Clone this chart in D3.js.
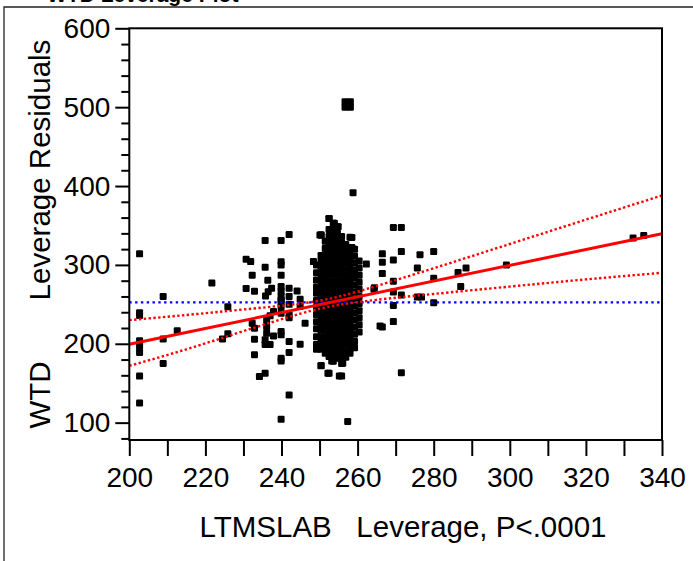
<!DOCTYPE html>
<html>
<head>
<meta charset="utf-8">
<script src="https://cdn.jsdelivr.net/npm/d3@7"></script>
<style>
  html, body { margin: 0; padding: 0; background: #fff; }
  svg { display: block; font-family: "Liberation Sans", Arial, sans-serif; }
</style>
</head>
<body>
<svg id="chart" width="693" height="561"></svg>
<script>
// ---------------- data ----------------
const chartTitle = "WTD Leverage Plot";
const xAxisTitle = "LTMSLAB\u00a0\u00a0\u00a0Leverage, P<.0001";
const yAxisTitleTop = "Leverage Residuals";
const yAxisTitleBottom = "WTD";

const xDomain = [200, 340];
const yDomain = [78, 600];
const xTickValues = [200, 210, 220, 230, 240, 250, 260, 270, 280, 290, 300, 310, 320, 330, 340];
const xTickLabels = [200, 220, 240, 260, 280, 300, 320, 340];
const yMajorTicks = [100, 200, 300, 400, 500, 600];
const yMinorTicks = [80, 120, 140, 160, 180, 220, 240, 260, 280, 320, 340, 360, 380, 420, 440, 460, 480, 520, 540, 560, 580];

// scattered points [LTMSLAB leverage, WTD leverage residual]
const outerPoints = [
  [202.7,314],[202.7,239.5],[202.7,236],[202.7,203.7],[202.7,196.5],[202.7,189],[202.7,159],[202.7,125],
  [208.9,260],[208.9,206],[208.9,175],[212.6,216.5],[221.7,277],
  [224.5,206],[225.9,212.6],[225.9,247],
  [230.7,307.2],[231.9,304.2],[230.7,270],[232.3,287],[232.9,266.7],[232.3,226],[232.9,219.8],[232.9,205.8],[232.9,186],
  [235.7,331],[239.9,331],[242,338.4],
  [235.7,297],[236.4,280.6],[237.4,270.5],[236.5,266],[235.8,260.7],
  [239.9,304],[239.9,300],[239.9,287],[239.9,272.5],[239.9,267],[239.9,260],[239.9,255.6],[239.9,253.5],[239.9,247],[239.9,238.8],
  [242,270.5],[242,260],[242,250],[242,233],[244.1,267],[244.9,256.5],[244.9,247.2],
  [237.9,240.8],[237,235.4],[236.1,230.3],[236.1,221.8],[236.1,213.4],[235.7,205],[237.9,210],
  [235.7,199],[237,199],
  [239.9,215.5],[239.9,211.3],[242,236.6],[242,202.8],[242,188.9],[239.9,181.8],[239.9,178.3],
  [244.9,199.5],[246.2,226],
  [234.2,158.4],[235.7,162.7],[242,135],[239.9,104.4],
  [248.4,304.2],[250.1,338],
  [258.8,391.6],[252.5,358.7],[253.9,352.9],[254.9,348.5],[250.4,338],[258.5,334.7],[258.5,322],
  [256.7,506.8],[258.1,506.8],[256.7,500],[258.1,500],
  [257.4,101.4],[252.2,162.7],[255.2,159.3],[250.4,172.4],[253.2,178.3],[254.5,181.8],[256.1,175.4],
  [262.3,301],[264.4,271],[265.9,222.7],[264.3,269],
  [266.5,314],[266.5,303.3],[266.5,289],
  [269.4,347.5],[271.5,347.5],[271.5,316.9],[269.4,306.2],
  [276.4,313],[280,316.9],[275.7,296],
  [269.4,279.3],[269.4,265.6],[271.5,261.7],[269.4,248.5],
  [266.5,221.3],[269.4,228.1],[271.5,163.2],
  [275.7,259.2],[276.8,259.2],[280,283],[280,252],
  [286.4,290.3],[288.5,296],[287.1,272.5],[299.1,299.8],[332.4,334],[335.2,337.4]
];

// dense cluster, read column by column: [leverage, [residuals...]]
const clusterColumns = [
  [249.2, [300,290,281,272,264,255,246,237,228,219,209,199,193]],
  [250.4, [338,312,305,297,289,281,273,265,257,249,241,233,225,217,209,201,193,172]],
  [251.5, [330,321,313,305,297,289,281,273,265,257,249,241,233,225,217,209,201,194,188]],
  [252.5, [358.7,345,336,328,320,312,304,296,288,280,272,264,256,248,240,232,224,216,208,200,192,184,162.7]],
  [253.6, [352.9,344,336,328,320,312,304,296,288,280,272,264,256,248,240,232,224,216,208,200,192,185,178]],
  [254.7, [348.5,340,332,324,316,308,300,292,284,276,268,260,252,244,236,228,220,212,204,196,188,182]],
  [255.8, [336,328,320,312,304,296,288,280,272,264,256,248,240,232,224,216,208,200,192,184,175,159]],
  [256.9, [326,318,310,302,294,286,278,270,262,254,246,238,230,222,214,206,198,190,183]],
  [258.0, [335,322,314,306,298,290,282,274,266,258,250,242,234,226,218,210,202,194,188]],
  [259.2, [320,311,302,293,284,275,266,257,248,239,230,221,212,203,195]],
  [260.4, [305,296,287,278,269,260,251,242,233,224,215]]
];

// fitted line, mean line and confidence curves
const fitX = [200, 340];
const fitY = [199.5, 339.5];
const meanResidual = 252.5;
const bandX =     [200,   215,   230,   245,   255,   265,   280,   300,   320,   340];
const bandUpper = [230,   236.5, 243.5, 251,   259.8, 273.3, 295.8, 326.5, 357.4, 388];
const bandLower = [172,   193,   216,   238.2, 249.2, 255.7, 263.2, 272.5, 281.6, 290];

// ---------------- drawing ----------------
const svg = d3.select("#chart");
const FONT = '"Liberation Sans", Arial, sans-serif';

const x = d3.scaleLinear().domain(xDomain).range([129.3, 662]);
const y = d3.scaleLinear().domain(yDomain).range([440, 28.3]);

// outer frame + cut-off title
svg.append("path")
  .attr("d", "M4,561V7H693")
  .attr("fill", "none").attr("stroke", "#222").attr("stroke-width", 1.3);
svg.append("text")
  .attr("x", 47).attr("y", 1.5)
  .attr("font-size", 21).attr("font-weight", "bold").attr("fill", "#000")
  .text(chartTitle);

svg.append("defs").append("clipPath").attr("id", "plotclip")
  .append("rect").attr("x", x(xDomain[0])).attr("y", y(yDomain[1]))
  .attr("width", x(xDomain[1]) - x(xDomain[0])).attr("height", y(yDomain[0]) - y(yDomain[1]));

const plot = svg.append("g").attr("clip-path", "url(#plotclip)");

// points
const allPoints = outerPoints.slice();
clusterColumns.forEach(([cx, ys]) => ys.forEach(v => allPoints.push([cx, v])));
const S = 7;
plot.append("g").selectAll("rect").data(allPoints).join("rect")
  .attr("x", d => x(d[0]) - S / 2).attr("y", d => y(d[1]) - S / 2)
  .attr("width", S).attr("height", S).attr("rx", 1.2)
  .attr("fill", "#000");

// mean line (blue dotted)
plot.append("line")
  .attr("x1", x(xDomain[0])).attr("x2", x(xDomain[1]))
  .attr("y1", y(meanResidual)).attr("y2", y(meanResidual))
  .attr("stroke", "#0000ff").attr("stroke-width", 2.4).attr("stroke-dasharray", "2.4,3.4");

// confidence curves (red dotted)
const bandLine = d3.line().x(d => x(d[0])).y(d => y(d[1])).curve(d3.curveNatural);
[bandUpper, bandLower].forEach(arr => {
  plot.append("path")
    .attr("d", bandLine(bandX.map((v, i) => [v, arr[i]])))
    .attr("fill", "none").attr("stroke", "#ff0000").attr("stroke-width", 2.4)
    .attr("stroke-dasharray", "2.4,2.4");
});

// fit line (red solid)
plot.append("path")
  .attr("d", d3.line().x(d => x(d[0])).y(d => y(d[1])).curve(d3.curveLinear)(fitX.map((v, i) => [v, fitY[i]])))
  .attr("fill", "none").attr("stroke", "#ff0000").attr("stroke-width", 3);

// axes
const xAxis = d3.axisBottom(x).tickValues(xTickValues).tickSize(16).tickSizeOuter(0).tickPadding(11)
  .tickFormat(d => xTickLabels.includes(d) ? d : "");
const gx = svg.append("g").attr("transform", `translate(0,${y(yDomain[0])})`).call(xAxis);

const yMinor = d3.axisLeft(y).tickValues(yMinorTicks).tickSize(8).tickSizeOuter(0).tickFormat("");
const gyMinor = svg.append("g").attr("transform", `translate(${x(xDomain[0])},0)`).call(yMinor);
const yMajor = d3.axisLeft(y).tickValues(yMajorTicks).tickSize(14).tickSizeOuter(0).tickPadding(5);
const gy = svg.append("g").attr("transform", `translate(${x(xDomain[0])},0)`).call(yMajor);

[gx, gyMinor, gy].forEach(g => {
  g.select(".domain").remove();
  g.selectAll(".tick line").attr("stroke", "#000").attr("stroke-width", 2);
  g.selectAll("text").attr("font-family", FONT).attr("font-size", 28).attr("fill", "#000");
});

// plot frame
svg.append("rect")
  .attr("x", x(xDomain[0])).attr("y", y(yDomain[1]))
  .attr("width", x(xDomain[1]) - x(xDomain[0])).attr("height", y(yDomain[0]) - y(yDomain[1]))
  .attr("fill", "none").attr("stroke", "#000").attr("stroke-width", 2);

// axis titles
svg.append("text")
  .attr("x", 403).attr("y", 537)
  .attr("text-anchor", "middle").attr("font-size", 29.5).attr("fill", "#000")
  .text(xAxisTitle);

svg.append("text")
  .attr("transform", "translate(50,170) rotate(-90)")
  .attr("text-anchor", "middle").attr("font-size", 29.5).attr("fill", "#000")
  .text(yAxisTitleTop);
svg.append("text")
  .attr("transform", "translate(50,395) rotate(-90)")
  .attr("text-anchor", "middle").attr("font-size", 29.5).attr("fill", "#000")
  .text(yAxisTitleBottom);
</script>
</body>
</html>
